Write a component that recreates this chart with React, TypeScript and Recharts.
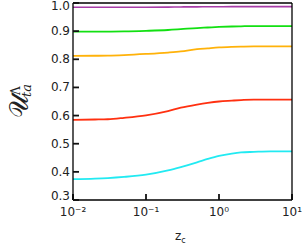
import React from "react";
import { LineChart, Line, XAxis, YAxis } from "recharts";

const zValues = [0.01, 0.02, 0.03, 0.05, 0.1, 0.2, 0.3, 0.5, 0.7, 1, 1.5, 2, 3, 5, 10];
const purple = [0.985, 0.985, 0.985, 0.985, 0.985, 0.9855, 0.986, 0.9863, 0.9866, 0.9868, 0.987, 0.987, 0.987, 0.987, 0.987];
const green = [0.898, 0.898, 0.8985, 0.899, 0.901, 0.904, 0.907, 0.911, 0.913, 0.915, 0.9165, 0.9172, 0.918, 0.918, 0.918];
const orange = [0.812, 0.8125, 0.813, 0.815, 0.819, 0.824, 0.828, 0.836, 0.839, 0.842, 0.844, 0.845, 0.846, 0.846, 0.846];
const red = [0.585, 0.586, 0.587, 0.592, 0.601, 0.616, 0.628, 0.639, 0.645, 0.650, 0.653, 0.655, 0.657, 0.657, 0.657];
const cyan = [0.374, 0.376, 0.378, 0.382, 0.390, 0.405, 0.417, 0.434, 0.446, 0.457, 0.465, 0.469, 0.471, 0.473, 0.473];

const xMajor = [0.01, 0.1, 1, 10];
const xLabels = ["10⁻²", "10⁻¹", "10⁰", "10¹"];
const xMinor = [0.02, 0.03, 0.04, 0.05, 0.06, 0.07, 0.08, 0.09, 0.2, 0.3, 0.4, 0.5, 0.6, 0.7, 0.8, 0.9, 2, 3, 4, 5, 6, 7, 8, 9];
const yMajor = [0.3, 0.4, 0.5, 0.6, 0.7, 0.8, 0.9, 1.0];
const yLabels = ["0.3", "0.4", "0.5", "0.6", "0.7", "0.8", "0.9", "1.0"];
const yMinor = [
  0.32, 0.34, 0.36, 0.38, 0.42, 0.44, 0.46, 0.48, 0.52, 0.54, 0.56, 0.58,
  0.62, 0.64, 0.66, 0.68, 0.72, 0.74, 0.76, 0.78, 0.82, 0.84, 0.86, 0.88,
  0.92, 0.94, 0.96, 0.98,
];

const data = zValues.map((z, i) => ({
  z,
  purple: purple[i],
  green: green[i],
  orange: orange[i],
  red: red[i],
  cyan: cyan[i],
}));

const FONT = "'DejaVu Sans', sans-serif";
const MAJ = 6;
const MIN = 3;

const xLabelFor = (v: number) => {
  const idx = xMajor.findIndex((m) => Math.abs(m - v) < 1e-9);
  return idx < 0 ? "" : xLabels[idx];
};

const LeftLabel = (props: any) => {
  const { x, y, payload } = props;
  const idx = yMajor.findIndex((m) => Math.abs(m - payload.value) < 1e-9);
  if (idx < 0) return <g />;
  let dy = 4;
  if (idx === yMajor.length - 1) dy = 7;
  if (idx === 0) dy = 0;
  return (
    <text x={x} y={y + dy} textAnchor="end" fontFamily={FONT} fontSize={12} fill="#222">
      {yLabels[idx]}
    </text>
  );
};

const YLabel = () => (
  <g>
    <text
      transform="translate(28,118) rotate(-90)"
      fontFamily="'DejaVu Serif', 'DejaVu Sans', serif"
      fontSize={26}
      fill="#222"
    >
      𝒰
    </text>
    <text
      transform="translate(31,97) rotate(-90)"
      fontFamily="'DejaVu Serif', serif"
      fontStyle="italic"
      fontSize={13}
      fill="#222"
    >
      ta
    </text>
    <text
      transform="translate(20,95) rotate(-90)"
      fontFamily="'DejaVu Serif', serif"
      fontSize={12}
      fill="#222"
    >
      Λ
    </text>
  </g>
);

const XLabel = () => (
  <text x={175} y={240} fontFamily={FONT} fontSize={12} fill="#222">
    z<tspan dy={3} fontSize={8}>c</tspan>
  </text>
);

const tickLineStyle = { stroke: "#111", strokeWidth: 1.8 };
const axisLineStyle = { stroke: "#000", strokeWidth: 1.3 };

export default function App() {
  return (
    <div style={{ position: "absolute", left: 0, top: 0, width: 305, height: 246, background: "#fff" }}>
      <LineChart width={305} height={246} data={data} margin={{ top: 1, right: 11, bottom: 0, left: 0 }}>
        <XAxis xAxisId="bm" dataKey="z" type="number" scale="log" domain={[0.01, 10]} interval={0}
          stroke="#000" tickLine={tickLineStyle} axisLine={false}
          orientation="bottom" height={1} ticks={xMinor} tickSize={-MIN} tick={false} />
        <XAxis xAxisId="b" dataKey="z" type="number" scale="log" domain={[0.01, 10]} interval={0}
          stroke="#000" tickLine={tickLineStyle} axisLine={axisLineStyle}
          orientation="bottom" height={45} ticks={xMajor} tickSize={-MAJ} tickMargin={MAJ + 7}
          tickFormatter={xLabelFor}
          tick={{ fontFamily: FONT, fontSize: 12, fill: "#222" }}
          label={<XLabel />} />
        <XAxis xAxisId="tm" dataKey="z" type="number" scale="log" domain={[0.01, 10]} interval={0}
          stroke="#000" tickLine={tickLineStyle} axisLine={false}
          orientation="top" height={1} ticks={xMinor} tickSize={-MIN} tick={false} />
        <XAxis xAxisId="t" dataKey="z" type="number" scale="log" domain={[0.01, 10]} interval={0}
          stroke="#000" tickLine={tickLineStyle} axisLine={axisLineStyle}
          orientation="top" height={1} ticks={xMajor} tickSize={-MAJ} tick={false} />
        <YAxis yAxisId="lm" type="number" domain={[0.3, 1.0]} interval={0}
          stroke="#000" tickLine={tickLineStyle} axisLine={false}
          orientation="left" width={1} ticks={yMinor} tickSize={-MIN} tick={false} />
        <YAxis yAxisId="l" type="number" domain={[0.3, 1.0]} interval={0}
          stroke="#000" tickLine={tickLineStyle} axisLine={axisLineStyle}
          orientation="left" width={72} ticks={yMajor} tickSize={-MAJ} tickMargin={MAJ + 3}
          tick={LeftLabel} label={<YLabel />} />
        <YAxis yAxisId="rm" type="number" domain={[0.3, 1.0]} interval={0}
          stroke="#000" tickLine={tickLineStyle} axisLine={false}
          orientation="right" width={1} ticks={yMinor} tickSize={-MIN} tick={false} />
        <YAxis yAxisId="r" type="number" domain={[0.3, 1.0]} interval={0}
          stroke="#000" tickLine={tickLineStyle} axisLine={axisLineStyle}
          orientation="right" width={1} ticks={yMajor} tickSize={-MAJ} tick={false} />
        <Line xAxisId="b" yAxisId="l" dataKey="purple" type="monotone" stroke="#a83ca8" strokeWidth={1.6} dot={false} isAnimationActive={false} />
        <Line xAxisId="b" yAxisId="l" dataKey="green" type="monotone" stroke="#12e012" strokeWidth={1.8} dot={false} isAnimationActive={false} />
        <Line xAxisId="b" yAxisId="l" dataKey="orange" type="monotone" stroke="#ffb20a" strokeWidth={1.8} dot={false} isAnimationActive={false} />
        <Line xAxisId="b" yAxisId="l" dataKey="red" type="monotone" stroke="#ff3010" strokeWidth={1.8} dot={false} isAnimationActive={false} />
        <Line xAxisId="b" yAxisId="l" dataKey="cyan" type="monotone" stroke="#22eaf2" strokeWidth={1.8} dot={false} isAnimationActive={false} />
      </LineChart>
    </div>
  );
}
